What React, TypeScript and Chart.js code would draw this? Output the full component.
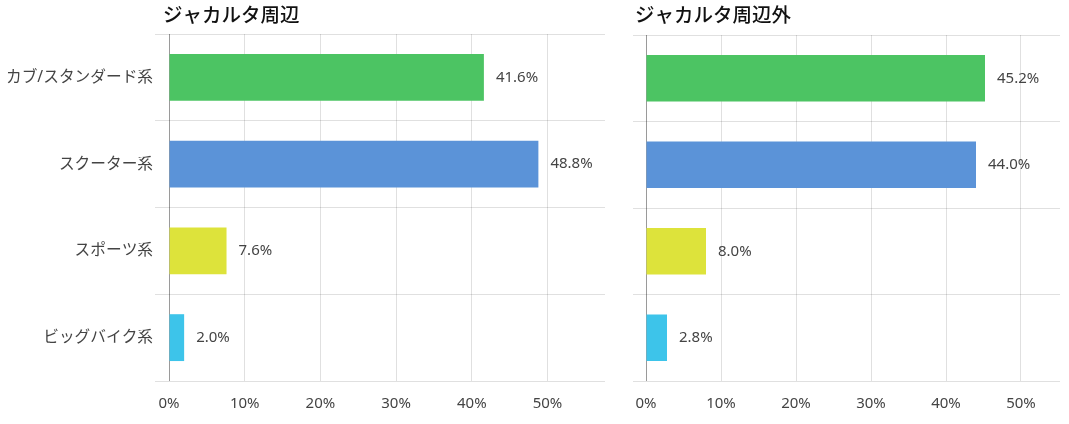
import React, { useEffect, useRef } from 'react';
import { Chart, registerables } from 'chart.js';

Chart.register(...registerables);

// ---- data ----
const categories = ['カブ/スタンダード系', 'スクーター系', 'スポーツ系', 'ビッグバイク系'];
const jakartaValues = [41.6, 48.8, 7.6, 2.0];
const outsideValues = [45.2, 44.0, 8.0, 2.8];
const barColors = ['#4CC463', '#5B93D8', '#DDE33B', '#3DC4EA'];
const panelTitles = ['ジャカルタ周辺', 'ジャカルタ周辺外'];
const tickStep = 10;

const FONT_FAMILY = '"Noto Sans", "Noto Sans CJK JP", sans-serif';
const TEXT_COLOR = '#444';
const GRID_COLOR = 'rgba(0,0,0,0.12)';
const AXIS_COLOR = '#9a9a9a';

const panelTitlePlugin = {
  id: 'panelTitle',
  afterDraw(chart: any, _args: any, opts: any) {
    if (!opts || !opts.text) return;
    const ctx = chart.ctx;
    ctx.save();
    ctx.font = `500 19.5px "Noto Sans CJK JP", sans-serif`;
    ctx.fillStyle = '#111';
    ctx.textAlign = 'left';
    ctx.textBaseline = 'alphabetic';
    ctx.fillText(opts.text, chart.chartArea.left + opts.dx, opts.y);
    ctx.restore();
  },
};

const valueLabelPlugin = {
  id: 'valueLabels',
  afterDraw(chart: any) {
    const ctx = chart.ctx;
    ctx.save();
    ctx.font = `15px ${FONT_FAMILY}`;
    ctx.fillStyle = TEXT_COLOR;
    ctx.textAlign = 'left';
    ctx.textBaseline = 'middle';
    chart.data.datasets.forEach((ds: any, i: number) => {
      const meta = chart.getDatasetMeta(i);
      meta.data.forEach((bar: any, j: number) => {
        const v = ds.data[j] as number;
        ctx.fillText(v.toFixed(1) + '%', bar.x + 12, bar.y);
      });
    });
    ctx.restore();
  },
};

type PanelProps = {
  values: number[];
  title: string;
  showLabels: boolean;
  left: number;
  width: number;
  max: number;
  yAxisWidth: number;
  tickLength: number;
  titleDx: number;
  padTop: number;
  padRight: number;
};

function Panel(p: PanelProps) {
  const ref = useRef<HTMLCanvasElement | null>(null);
  useEffect(() => {
    if (!ref.current) return;
    const chart = new Chart(ref.current, {
      type: 'bar',
      data: {
        labels: categories,
        datasets: [
          {
            data: p.values,
            backgroundColor: barColors,
            borderWidth: 0,
            categoryPercentage: 1,
            barPercentage: 0.54,
          },
        ],
      },
      options: {
        indexAxis: 'y',
        responsive: false,
        animation: false,
        layout: { padding: { left: 0, right: p.padRight, top: p.padTop, bottom: 0 } },
        plugins: {
          legend: { display: false },
          tooltip: { enabled: false },
          title: { display: false },
          panelTitle: { text: p.title, dx: p.titleDx, y: 22 },
        } as any,
        scales: {
          x: {
            type: 'linear',
            min: 0,
            max: p.max,
            z: 1,
            grid: {
              color: (c: any) => (c.tick && c.tick.value === 0 ? AXIS_COLOR : GRID_COLOR),
              drawTicks: false,
            },
            border: { display: false },
            ticks: {
              stepSize: tickStep,
              includeBounds: false,
              autoSkip: false,
              maxRotation: 0,
              padding: 14,
              color: TEXT_COLOR,
              font: { family: FONT_FAMILY, size: 15 },
              callback: (v: any) => `${v}%`,
            },
            afterFit: (s: any) => {
              s.height = 43;
            },
          },
          y: {
            type: 'category',
            offset: true,
            grid: {
              offset: true,
              color: GRID_COLOR,
              drawTicks: true,
              tickLength: p.tickLength,
            },
            border: { display: false },
            ticks: {
              display: p.showLabels,
              padding: 2,
              color: TEXT_COLOR,
              font: { family: FONT_FAMILY, size: 15.7 },
            },
            afterFit: (s: any) => {
              s.width = p.yAxisWidth;
            },
          },
        },
      } as any,
      plugins: [panelTitlePlugin, valueLabelPlugin],
    });
    return () => chart.destroy();
  }, []);
  return (
    <canvas
      ref={ref}
      width={p.width}
      height={424}
      style={{ position: 'absolute', left: p.left, top: 0, width: p.width, height: 424 }}
    />
  );
}

export default function App() {
  return (
    <div
      style={{
        position: 'absolute',
        left: 0,
        top: 0,
        width: 1069,
        height: 424,
        background: '#fff',
        overflow: 'hidden',
      }}
    >
      <Panel
        values={jakartaValues}
        title={panelTitles[0]}
        showLabels={true}
        left={0}
        width={615}
        max={57.6}
        yAxisWidth={169}
        tickLength={14}
        titleDx={-6}
        padTop={34}
        padRight={10}
      />
      <Panel
        values={outsideValues}
        title={panelTitles[1]}
        showLabels={false}
        left={615}
        width={454}
        max={55.2}
        yAxisWidth={31}
        tickLength={13}
        titleDx={-11}
        padTop={35}
        padRight={9}
      />
    </div>
  );
}
